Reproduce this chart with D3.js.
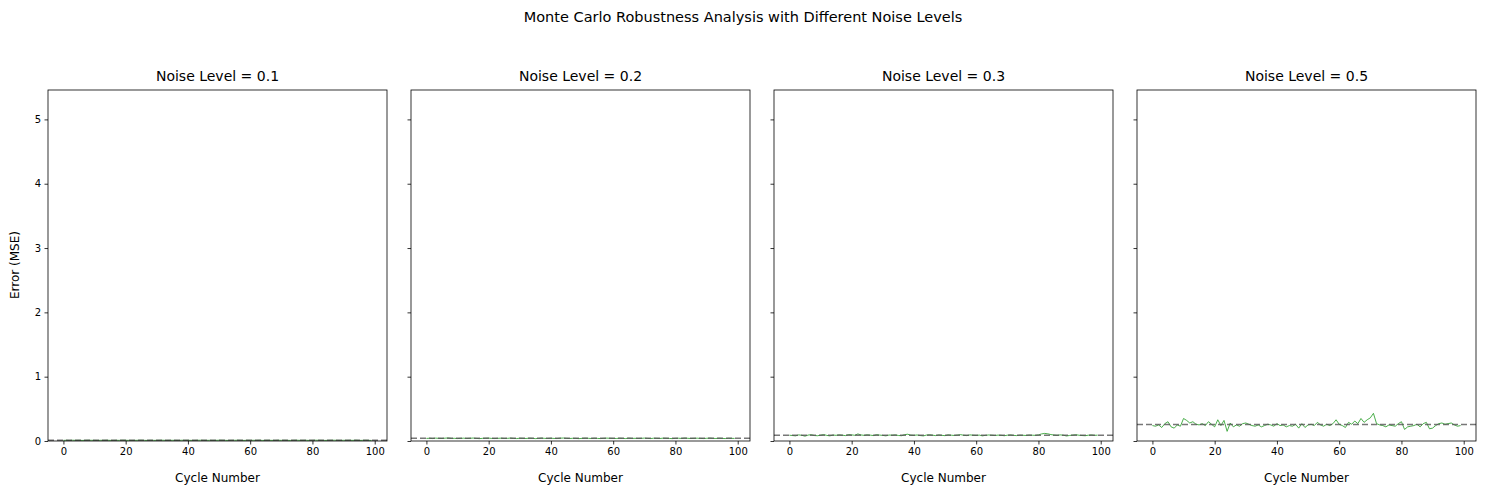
<!DOCTYPE html><html><head><meta charset="utf-8"><script src="https://d3js.org/d3.v7.min.js"></script>
<style>body{margin:0;background:#fff}text{font-family:"DejaVu Sans",sans-serif}</style></head><body><svg id="c" width="1486" height="495"></svg>
<script>
const noiseLevels=[0.1,0.2,0.3,0.5];
const err01=[0.010,0.011,0.009,0.012,0.010,0.011,0.009,0.010,0.012,0.011,0.010,0.009,0.011,0.010,0.012,0.010,0.009,0.011,0.010,0.012,0.011,0.010,0.009,0.010,0.011,0.012,0.010,0.009,0.011,0.010,0.010,0.011,0.012,0.009,0.010,0.011,0.010,0.009,0.012,0.010,0.011,0.010,0.009,0.011,0.012,0.010,0.010,0.011,0.009,0.010,0.012,0.011,0.010,0.009,0.010,0.011,0.012,0.010,0.009,0.011,0.010,0.011,0.010,0.012,0.009,0.010,0.011,0.010,0.009,0.012,0.010,0.011,0.010,0.009,0.011,0.012,0.010,0.010,0.011,0.009,0.010,0.012,0.011,0.010,0.009,0.010,0.011,0.012,0.010,0.009,0.011,0.010,0.011,0.010,0.012,0.009,0.010,0.011,0.010,0.009];
const err02=[0.040,0.043,0.038,0.045,0.041,0.039,0.044,0.047,0.040,0.042,0.038,0.041,0.044,0.039,0.042,0.046,0.040,0.037,0.041,0.043,0.045,0.040,0.038,0.042,0.044,0.039,0.041,0.046,0.040,0.038,0.043,0.041,0.039,0.044,0.042,0.037,0.040,0.045,0.041,0.039,0.043,0.040,0.038,0.044,0.046,0.041,0.039,0.042,0.040,0.037,0.041,0.044,0.042,0.039,0.043,0.040,0.038,0.041,0.045,0.042,0.040,0.039,0.043,0.041,0.038,0.044,0.040,0.042,0.039,0.041,0.045,0.040,0.038,0.043,0.041,0.039,0.044,0.042,0.040,0.037,0.041,0.043,0.040,0.046,0.042,0.039,0.041,0.044,0.040,0.038,0.042,0.045,0.041,0.039,0.043,0.040,0.038,0.042,0.041,0.040];
const err03=[0.090,0.085,0.080,0.095,0.088,0.075,0.092,0.098,0.085,0.082,0.090,0.100,0.087,0.080,0.093,0.088,0.096,0.090,0.084,0.101,0.095,0.089,0.110,0.094,0.088,0.097,0.091,0.085,0.099,0.092,0.087,0.080,0.093,0.090,0.095,0.086,0.082,0.099,0.105,0.091,0.088,0.094,0.085,0.079,0.092,0.098,0.090,0.084,0.095,0.088,0.083,0.096,0.090,0.086,0.093,0.099,0.089,0.084,0.095,0.090,0.087,0.092,0.080,0.088,0.094,0.090,0.085,0.092,0.088,0.082,0.090,0.095,0.087,0.084,0.091,0.089,0.086,0.093,0.090,0.088,0.095,0.110,0.118,0.112,0.100,0.093,0.088,0.095,0.090,0.078,0.086,0.092,0.098,0.090,0.085,0.082,0.090,0.094,0.088,0.091];
const err05=[0.24,0.23,0.25,0.21,0.27,0.30,0.22,0.20,0.25,0.23,0.35,0.32,0.28,0.30,0.26,0.25,0.27,0.24,0.30,0.26,0.22,0.33,0.24,0.32,0.15,0.28,0.22,0.25,0.23,0.27,0.28,0.26,0.24,0.23,0.25,0.22,0.24,0.26,0.25,0.23,0.27,0.24,0.25,0.22,0.24,0.23,0.26,0.20,0.27,0.21,0.25,0.26,0.24,0.29,0.25,0.23,0.26,0.24,0.27,0.33,0.26,0.24,0.21,0.29,0.26,0.31,0.27,0.35,0.29,0.33,0.36,0.43,0.27,0.25,0.24,0.22,0.25,0.24,0.23,0.27,0.30,0.18,0.22,0.23,0.24,0.26,0.22,0.27,0.29,0.19,0.20,0.24,0.27,0.28,0.26,0.27,0.28,0.25,0.23,0.24];
const series=[err01,err02,err03,err05];
const svg=d3.select("#c");
const lefts=[48,411,774,1137],W=339,T=90,B=441;
const y=d3.scaleLinear().domain([0,5.4571]).range([B,T]);
svg.append("text").attr("x",743).attr("y",22).attr("text-anchor","middle").attr("font-size",14.5).text("Monte Carlo Robustness Analysis with Different Noise Levels");
series.forEach((d,i)=>{
  const L=lefts[i];
  const x=d3.scaleLinear().domain([-4.95,103.95]).range([L,L+W]);
  const g=svg.append("g");
  const mean=d3.mean(d);
  g.append("path").datum(d).attr("fill","none").attr("stroke","#2ca02c").attr("stroke-width",1).attr("opacity",0.85)
   .attr("d",d3.line().x((v,j)=>x(j)).y(v=>y(v)));
  g.append("line").attr("x1",L).attr("x2",L+W).attr("y1",y(mean)).attr("y2",y(mean)).attr("stroke","#555").attr("stroke-opacity",0.8).attr("stroke-width",1.5).attr("stroke-dasharray","6,3");
  g.append("rect").attr("x",L).attr("y",T).attr("width",W).attr("height",B-T).attr("fill","none").attr("stroke","#000").attr("stroke-width",0.8);
  const xa=g.append("g").attr("transform",`translate(0,${B})`).call(d3.axisBottom(x).tickValues([0,20,40,60,80,100]).tickSize(3.5).tickPadding(3.5));
  const ya=g.append("g").attr("transform",`translate(${L},0)`).call(d3.axisLeft(y).tickValues([0,1,2,3,4,5]).tickSize(3.5).tickPadding(3.5).tickFormat(i===0?d3.format("d"):""));
  [xa,ya].forEach(a=>{a.select(".domain").remove();a.selectAll("text").attr("font-size",10).attr("font-family","DejaVu Sans").attr("fill","#000");a.selectAll("line").attr("stroke","#000").attr("stroke-width",0.8);});
  g.append("text").attr("x",L+W/2).attr("y",T-9).attr("text-anchor","middle").attr("font-size",14).text(`Noise Level = ${noiseLevels[i]}`);
  g.append("text").attr("x",L+W/2).attr("y",482).attr("text-anchor","middle").attr("font-size",12).text("Cycle Number");
});
svg.append("text").attr("transform","translate(19,265) rotate(-90)").attr("text-anchor","middle").attr("font-size",12).text("Error (MSE)");
</script></body></html>
